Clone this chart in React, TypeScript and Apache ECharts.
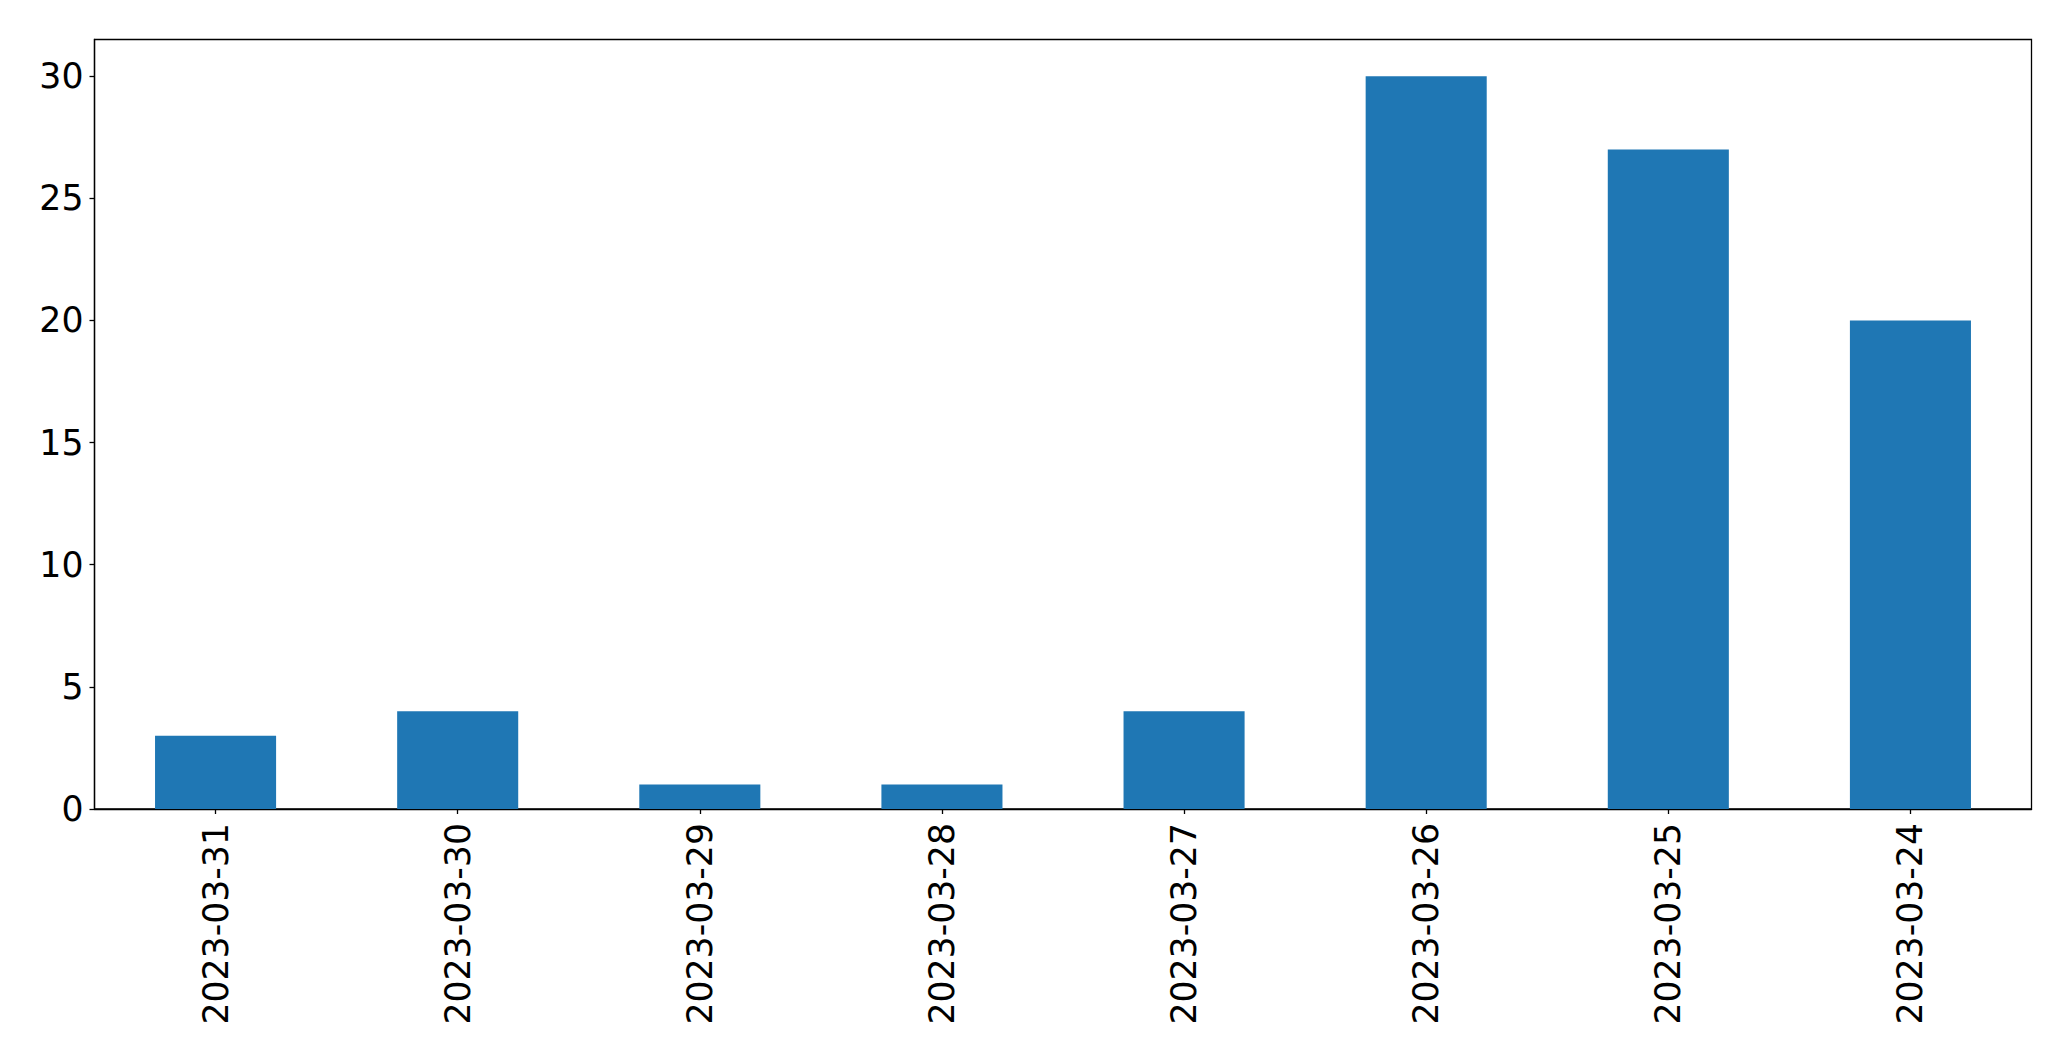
import React, { useEffect, useRef } from "react";
import * as echarts from "echarts";

const categories = ["2023-03-31", "2023-03-30", "2023-03-29", "2023-03-28", "2023-03-27", "2023-03-26", "2023-03-25", "2023-03-24"];
const values = [3, 4, 1, 1, 4, 30, 27, 20];
const yTicks = [0, 5, 10, 15, 20, 25, 30];

export default function App() {
  const ref = useRef<HTMLDivElement>(null);
  useEffect(() => {
    const chart = echarts.init(ref.current!, null, { renderer: "svg" });
    const font = "DejaVu Sans";
    chart.setOption({
      animation: false,
      backgroundColor: "#ffffff",
      grid: {
        left: 94.5,
        top: 39.5,
        right: 39.5,
        bottom: 252,
        show: true,
        borderColor: "#000000",
        borderWidth: 1.3,
        containLabel: false,
      },
      xAxis: {
        type: "category",
        data: categories,
        boundaryGap: true,
        axisLine: { show: true, lineStyle: { color: "#000000", width: 1.3 } },
        axisTick: { show: true, alignWithLabel: true, length: 5, lineStyle: { color: "#000000", width: 1.3 } },
        axisLabel: { rotate: 90, fontFamily: font, fontSize: 34.7, color: "#000000", margin: 14 },
        splitLine: { show: false },
      },
      yAxis: {
        type: "value",
        min: 0,
        max: 31.5,
        interval: 5,
        axisLine: { show: true, lineStyle: { color: "#000000", width: 1.3 } },
        axisTick: { show: true, length: 5, customValues: yTicks, lineStyle: { color: "#000000", width: 1.3 } },
        axisLabel: { fontFamily: font, fontSize: 34.7, color: "#000000", margin: 11, customValues: yTicks },
        splitLine: { show: false },
      },
      series: [
        {
          type: "bar",
          data: values,
          barWidth: "50%",
          itemStyle: { color: "#1f77b4" },
        },
      ],
    });
    return () => chart.dispose();
  }, []);
  return <div ref={ref} style={{ position: "fixed", left: 0, top: 0, width: 2071, height: 1061 }} />;
}
